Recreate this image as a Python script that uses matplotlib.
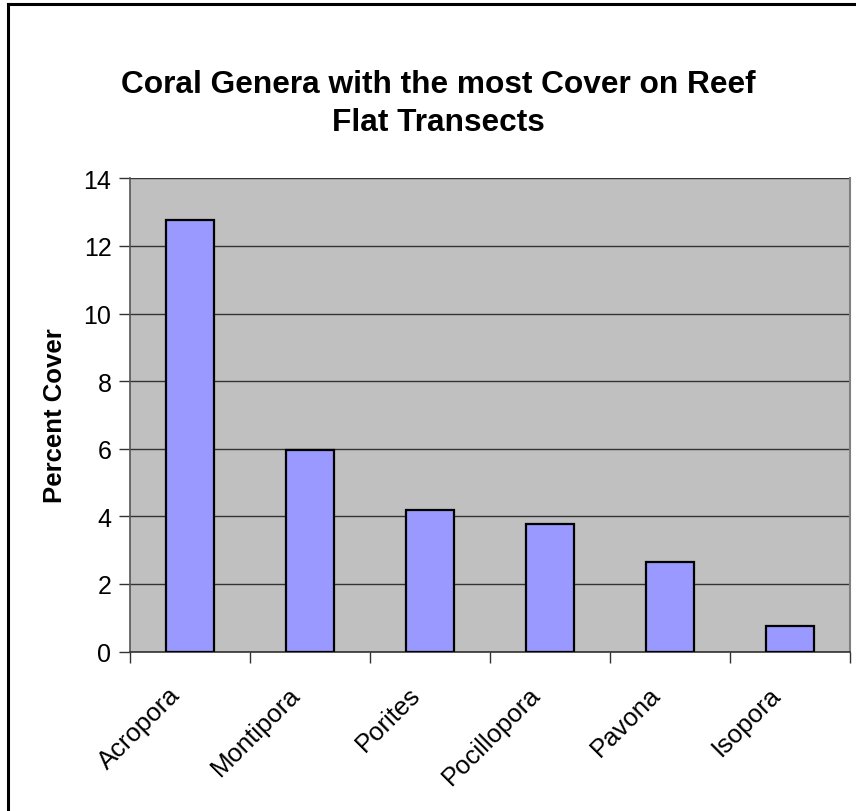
import matplotlib
matplotlib.use("Agg")
import matplotlib.pyplot as plt
from matplotlib.lines import Line2D

genera = ["Acropora", "Montipora", "Porites", "Pocillopora", "Pavona", "Isopora"]
percent_cover = [12.76, 5.96, 4.18, 3.78, 2.65, 0.76]
y_ticks = [0, 2, 4, 6, 8, 10, 12, 14]

plt.rcParams['font.family'] = ['Liberation Sans', 'DejaVu Sans']

fig = plt.figure(figsize=(8.56, 8.12), dpi=100)
W, H = 856, 812
ax = fig.add_axes([129.5 / W, 1 - 652.5 / H, (850 - 129.5) / W, (652.5 - 179.3) / H])
ax.set_facecolor('#c0c0c0')

x = list(range(len(genera)))
ax.bar(x, percent_cover, width=0.4, color='#9999ff', edgecolor='black', linewidth=1.6, zorder=3)

ax.set_xlim(-0.5, len(genera) - 0.5)
ax.set_ylim(0, 14)
ax.set_yticks(y_ticks)
ax.set_yticklabels([str(v) for v in y_ticks], fontsize=18)
ax.yaxis.grid(True, color='#333333', linewidth=1.0, zorder=1)
ax.set_axisbelow(True)

# category boundary ticks
ax.set_xticks([i - 0.5 for i in range(len(genera) + 1)])
ax.set_xticklabels([])
# category labels
for i, name in zip(x, genera):
    ax.annotate(name, xy=(i, 0), xycoords=('data', 'axes fraction'),
                xytext=(-13, -39), textcoords='offset pixels',
                rotation=45, ha='right', va='center', rotation_mode='anchor',
                fontsize=18.5, annotation_clip=False)
ax.tick_params(axis='x', length=8, width=1, color='#333333', direction='out')
ax.tick_params(axis='y', length=8, width=1, color='#333333', direction='out', pad=5)

ax.spines['top'].set_visible(False)
ax.spines['right'].set_color('#808080')
ax.spines['right'].set_linewidth(1.5)
ax.spines['left'].set_color('#555555')
ax.spines['bottom'].set_color('#333333')
ax.spines['left'].set_linewidth(1.2)
ax.spines['bottom'].set_linewidth(1.2)

ax.set_ylabel("Percent Cover", fontsize=18.5, fontweight='bold', labelpad=12)

fig.text(438 / W, 1 - 104 / H, "Coral Genera with the most Cover on Reef\nFlat Transects",
         ha='center', va='center', fontsize=22.8, fontweight='bold', linespacing=1.38)

# chart border (left and top edges visible)
fig.add_artist(Line2D([8.3 / W, 8.3 / W], [0, 1 - 5 / H], transform=fig.transFigure,
                      color='black', linewidth=2.2))
fig.add_artist(Line2D([8.3 / W, 1], [1 - 5 / H, 1 - 5 / H], transform=fig.transFigure,
                      color='black', linewidth=2.2))

fig.savefig("out.png", dpi=100, facecolor='white')
